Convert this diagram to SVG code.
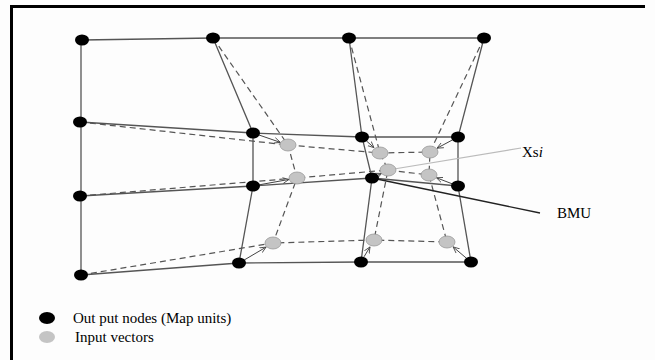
<svg xmlns="http://www.w3.org/2000/svg" width="655" height="360" viewBox="0 0 655 360">
<defs>
<style>
.out{fill:#000}
.inp{fill:#c4c4c4;stroke:#999;stroke-width:0.8}
.solid{fill:none;stroke:#555;stroke-width:1.3}
.dash{fill:none;stroke:#555;stroke-width:1.2;stroke-dasharray:6 4}
.arr{fill:none;stroke:#444;stroke-width:1;marker-end:url(#ah)}
.lbl{font-family:"Liberation Serif","Times New Roman",serif;font-size:15px;fill:#000}
</style>
<marker id="ah" viewBox="0 0 10 10" refX="9" refY="5" markerWidth="7" markerHeight="7" orient="auto" markerUnits="userSpaceOnUse">
<path d="M0,1 L9,5 L0,9" fill="none" stroke="#444" stroke-width="1.2"/>
</marker>
</defs>
<rect x="0" y="0" width="655" height="360" fill="#fdfdfd"/>
<path d="M11.5,370 V6.5 H645" fill="none" stroke="#000" stroke-width="3"/>
<g id="connectors">
<polyline class="solid" points="82,40 213,38 349,38 484,38"/>
<polyline class="solid" points="81,40 81,122 81,196 81,275"/>
<polyline class="solid" points="80,122 253,133 362,137 458,137"/>
<polyline class="solid" points="80,196 253,186 372,178 458,186"/>
<polyline class="solid" points="81,275 239,263 361,262 471,262"/>
<polyline class="solid" points="213,38 253,133 253,186 239,263"/>
<polyline class="solid" points="349,38 362,137 372,178 361,262"/>
<polyline class="solid" points="484,38 458,137 458,186 471,262"/>
<polyline class="dash" points="80,122 288,145 380,153 430,152"/>
<polyline class="dash" points="80,196 297,178 388,170 429,175"/>
<polyline class="dash" points="81,275 273,243 374,240 447,242"/>
<polyline class="dash" points="213,38 288,145 297,178 273,243"/>
<polyline class="dash" points="349,38 380,153 388,170 374,240"/>
<polyline class="dash" points="484,38 430,152 429,175 447,242"/>
<line class="arr" x1="258.7" y1="134.9" x2="280.4" y2="142.4"/>
<line class="arr" x1="258.9" y1="184.9" x2="289.1" y2="179.4"/>
<line class="arr" x1="244.2" y1="260" x2="266.1" y2="247.1"/>
<line class="arr" x1="366.5" y1="141" x2="374" y2="147.7"/>
<line class="arr" x1="452.7" y1="139.8" x2="437" y2="148.2"/>
<line class="arr" x1="377.4" y1="175.3" x2="381.7" y2="173.4"/>
<line class="arr" x1="452.4" y1="183.9" x2="436.5" y2="177.8"/>
<line class="arr" x1="364" y1="256.8" x2="370" y2="246.9"/>
<line class="arr" x1="466.4" y1="258.2" x2="453.1" y2="246.9"/>
<line x1="388" y1="170" x2="521" y2="148" stroke="#bbb" stroke-width="1.2"/>
<line x1="372" y1="178" x2="540" y2="213" stroke="#222" stroke-width="1.3"/>
</g>
<g id="input-nodes">
<ellipse class="inp" cx="288" cy="145" rx="8" ry="6"/>
<ellipse class="inp" cx="380" cy="153" rx="8" ry="6"/>
<ellipse class="inp" cx="430" cy="152" rx="8" ry="6"/>
<ellipse class="inp" cx="297" cy="178" rx="8" ry="6"/>
<ellipse class="inp" cx="388" cy="170" rx="8" ry="6"/>
<ellipse class="inp" cx="429" cy="175" rx="8" ry="6"/>
<ellipse class="inp" cx="273" cy="243" rx="8" ry="6"/>
<ellipse class="inp" cx="374" cy="240" rx="8" ry="6"/>
<ellipse class="inp" cx="447" cy="242" rx="8" ry="6"/>
</g>
<g id="output-nodes">
<ellipse class="out" cx="82" cy="40" rx="7" ry="5.5"/>
<ellipse class="out" cx="213" cy="38" rx="7" ry="5.5"/>
<ellipse class="out" cx="349" cy="38" rx="7" ry="5.5"/>
<ellipse class="out" cx="484" cy="38" rx="7" ry="5.5"/>
<ellipse class="out" cx="80" cy="122" rx="7" ry="5.5"/>
<ellipse class="out" cx="253" cy="133" rx="7" ry="5.5"/>
<ellipse class="out" cx="362" cy="137" rx="7" ry="5.5"/>
<ellipse class="out" cx="458" cy="137" rx="7" ry="5.5"/>
<ellipse class="out" cx="80" cy="196" rx="7" ry="5.5"/>
<ellipse class="out" cx="253" cy="186" rx="7" ry="5.5"/>
<ellipse class="out" cx="372" cy="178" rx="7" ry="5.5"/>
<ellipse class="out" cx="458" cy="186" rx="7" ry="5.5"/>
<ellipse class="out" cx="81" cy="275" rx="7" ry="5.5"/>
<ellipse class="out" cx="239" cy="263" rx="7" ry="5.5"/>
<ellipse class="out" cx="361" cy="262" rx="7" ry="5.5"/>
<ellipse class="out" cx="471" cy="262" rx="7" ry="5.5"/>
</g>
<g id="label-xsi"><text class="lbl" x="522" y="157">Xs<tspan font-style="italic">i</tspan></text></g>
<g id="label-bmu"><text class="lbl" x="557" y="218">BMU</text></g>
<g id="legend">
<ellipse class="out" cx="47" cy="318" rx="8" ry="6"/>
<ellipse cx="47" cy="337" rx="8" ry="6" fill="#c4c4c4"/>
<text class="lbl" x="73" y="323">Out put nodes (Map units)</text>
<text class="lbl" x="75" y="342">Input vectors</text>
</g>
</svg>
